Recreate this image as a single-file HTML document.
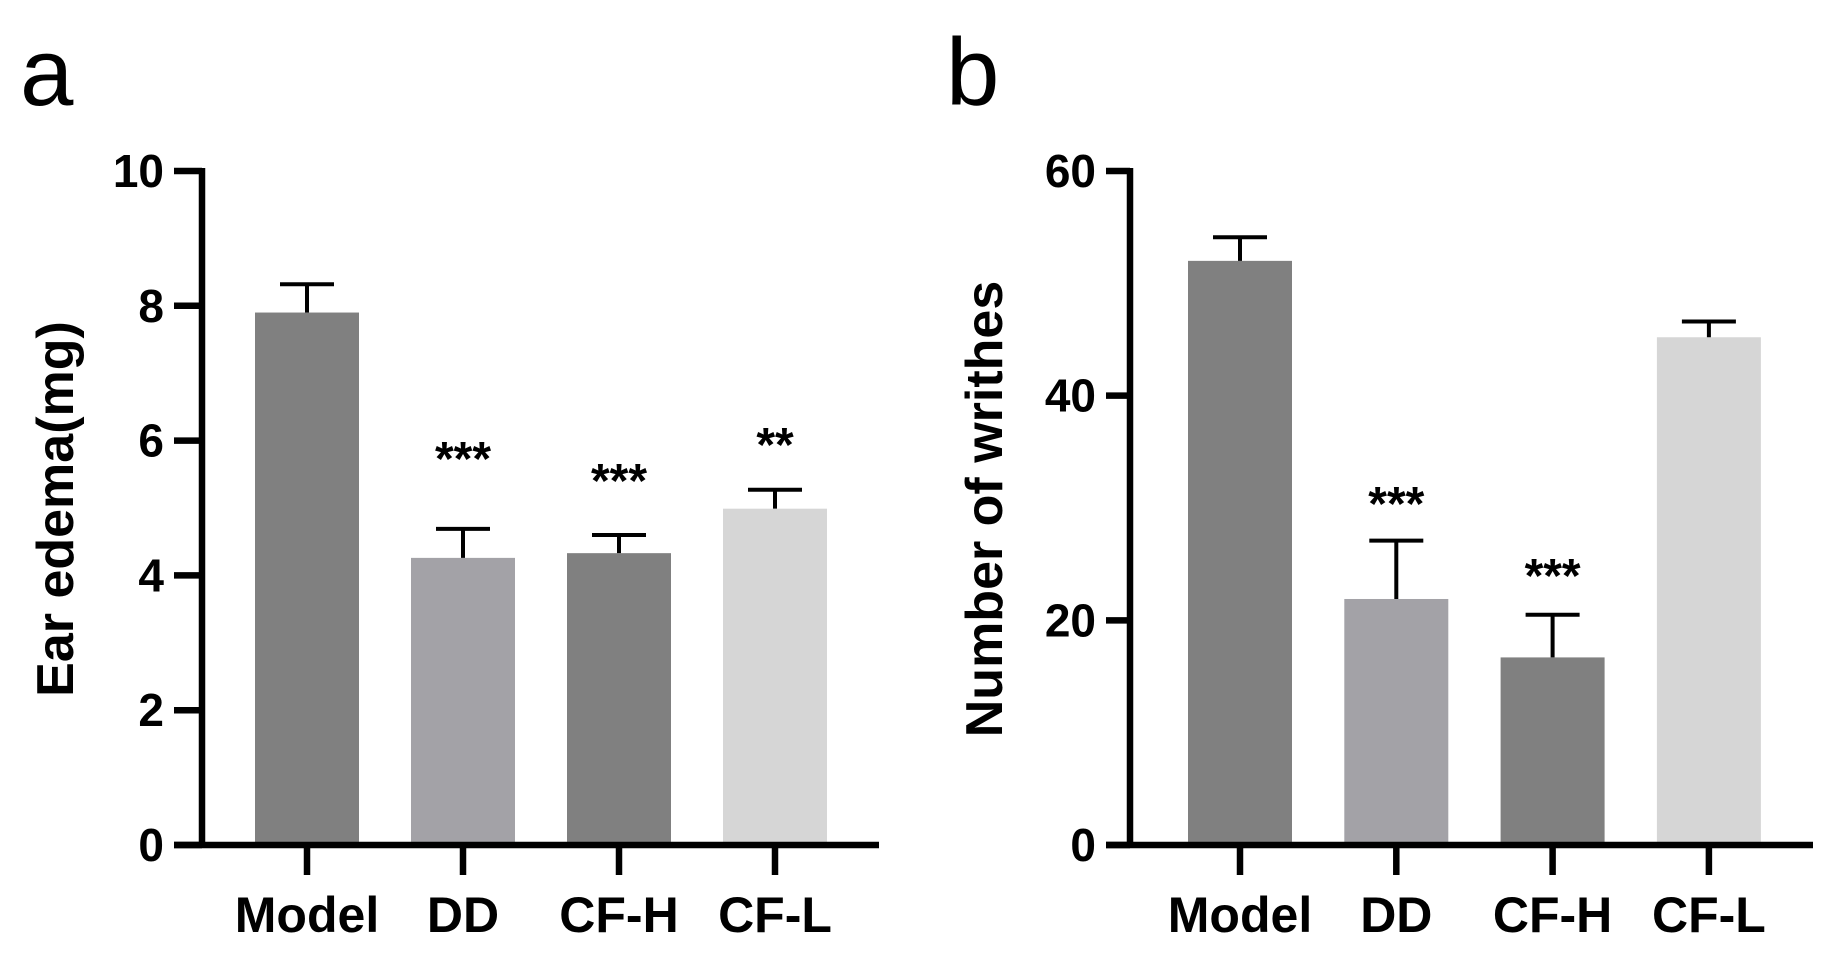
<!DOCTYPE html>
<html><head><meta charset="utf-8"><style>
html,body{margin:0;padding:0;background:#fff;}
svg{display:block;font-family:"Liberation Sans",Arial,sans-serif;}
</style></head><body>
<svg id="fig" width="1845" height="974" viewBox="0 0 1845 974"></svg>
<script>
const categories = ["Model","DD","CF-H","CF-L"];
const edemaValues = [7.9, 4.26, 4.33, 4.99];
const edemaErrors = [0.42, 0.43, 0.27, 0.28];
const edemaStars = ["", "***", "***", "**"];
const edemaTicks = [0, 2, 4, 6, 8, 10];
const writhesValues = [52.0, 21.9, 16.7, 45.2];
const writhesErrors = [2.1, 5.2, 3.8, 1.4];
const writhesStars = ["", "***", "***", ""];
const writhesTicks = [0, 20, 40, 60];
const barColors = ["#808080","#a3a2a7","#808080","#d6d6d6"];

const NS = "http://www.w3.org/2000/svg";
const svg = document.getElementById("fig");
function mk(tag, attrs, parent) {
  const e = document.createElementNS(NS, tag);
  for (const k in attrs) e.setAttribute(k, attrs[k]);
  (parent || svg).appendChild(e);
  return e;
}

function panel(cfg) {
  const g = mk("g", {});
  
  
  const y = v => cfg.y0 - (v / cfg.max) * (cfg.y0 - cfg.yTop);
  const x = i => cfg.c0 + i * cfg.step;
  const L = mk("text", {x: cfg.letterX, y: 105, "font-size": 96, fill: "#000"}, g);
  L.textContent = cfg.letter;
  
  
  cfg.values.forEach((v, i) => {
    const r = mk("rect", {x: x(i) - cfg.bw / 2, y: y(v), width: cfg.bw, height: cfg.y0 - y(v), fill: barColors[i]}, g);
    
    
    const top = y(v + cfg.errs[i]);
    const e = mk("path", {d: `M${x(i)},${y(v)}V${top}M${x(i) - 27},${top}H${x(i) + 27}`, stroke: "#000", "stroke-width": 4, fill: "none"}, g);
    
    
    if (cfg.stars[i]) {
      const s = mk("text", {x: x(i), y: cfg.starY[i] + 27, "font-size": 48, "font-weight": "bold", "text-anchor": "middle"}, g);
      s.textContent = cfg.stars[i];
      
      
    }
  });
  const ax = mk("path", {d: `M${cfg.axX},${cfg.yTop - 3}V${cfg.y0}M${cfg.tickX},${cfg.y0}H${cfg.xEnd}`, stroke: "#000", "stroke-width": 6.5, fill: "none"}, g);
  
  
  cfg.ticks.forEach(t => {
    const tk = mk("line", {x1: cfg.tickX, x2: cfg.axX, y1: y(t), y2: y(t), stroke: "#000", "stroke-width": 6.5}, g);
    
    
    const tl = mk("text", {x: cfg.tickX - 10, y: y(t) + 16, "font-size": 46, "font-weight": "bold", "text-anchor": "end"}, g);
    tl.textContent = t;
    
    
  });
  categories.forEach((c, i) => {
    const tk = mk("line", {x1: x(i), x2: x(i), y1: cfg.y0, y2: cfg.y0 + 30, stroke: "#000", "stroke-width": 6.5}, g);
    
    
    const tl = mk("text", {x: x(i), y: 932, "font-size": 50, "font-weight": "bold", "text-anchor": "middle"}, g);
    tl.textContent = c;
    
    
  });
  const t = mk("text", {x: 0, y: 0, "font-size": 52, "font-weight": "bold", "text-anchor": "middle", transform: `translate(${cfg.titleX},509) rotate(-90)`}, g);
  t.textContent = cfg.title;
  
  
}

panel({name: "chart-ear-edema", letter: "a", letterX: 20, values: edemaValues, errs: edemaErrors, stars: edemaStars,
  starY: [0, 448, 470, 434], ticks: edemaTicks, max: 10, y0: 845, yTop: 171, c0: 307, step: 156, bw: 104,
  axX: 202, tickX: 174, xEnd: 879, titleX: 73, title: "Ear edema(mg)"});
panel({name: "chart-writhes", letter: "b", letterX: 946, values: writhesValues, errs: writhesErrors, stars: writhesStars,
  starY: [0, 493, 565, 0], ticks: writhesTicks, max: 60, y0: 845, yTop: 171, c0: 1240, step: 156.3, bw: 104,
  axX: 1130, tickX: 1106, xEnd: 1813, titleX: 1002, title: "Number of writhes"});
</script>
</body></html>
